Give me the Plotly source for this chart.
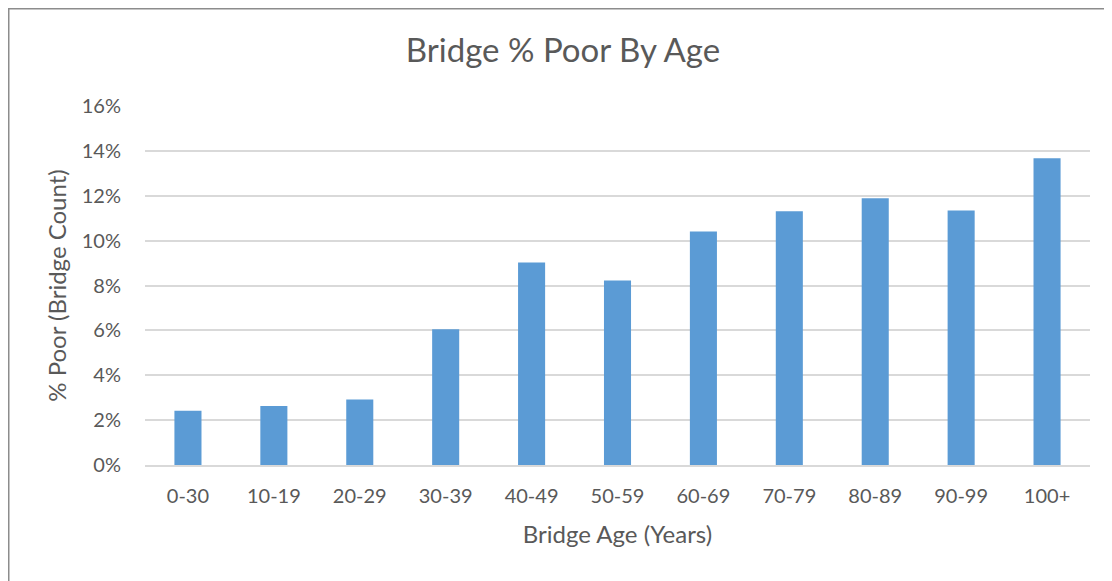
import plotly.graph_objects as go

categories = ["0-30", "10-19", "20-29", "30-39", "40-49", "50-59", "60-69", "70-79", "80-89", "90-99", "100+"]
pct_poor = [0.0242, 0.0263, 0.0292, 0.0605, 0.0902, 0.0822, 0.1041, 0.1131, 0.1189, 0.1134, 0.1367]
y_ticks = [0, 0.02, 0.04, 0.06, 0.08, 0.10, 0.12, 0.14, 0.16]

# page has an 8px body margin; figure coordinates = page - 8
W, H = 1104, 573
L, R, T, B = 137, 22, 98, 116
pw, ph = W - L - R, H - T - B

def px_x(p):
    return (p - L) / pw

def px_y(p):
    return 1 - (p - T) / ph

font = "Lato, 'Open Sans', sans-serif"
grey = "#595959"

fig = go.Figure(go.Bar(
    x=categories, y=pct_poor, marker=dict(color="#5B9BD5", line=dict(width=0)),
    width=0.315,
))

fig.update_layout(
    width=W, height=H,
    margin=dict(l=L, r=R, t=T, b=B),
    paper_bgcolor="white", plot_bgcolor="white",
    font=dict(family=font, color=grey),
    showlegend=False,
    title=dict(text="Bridge % Poor By Age", x=px_x(555), xref="paper", xanchor="center",
               y=1 - 42 / H, yanchor="middle", font=dict(size=33, color=grey, family=font)),
    xaxis=dict(
        tickfont=dict(size=20, color=grey), showgrid=False, showline=True,
        linecolor="#D9D9D9", linewidth=1.5, ticks="", ticklabelstandoff=12,
        title=dict(text="Bridge Age (Years)", font=dict(size=24, color=grey), standoff=20),
    ),
    yaxis=dict(
        range=[0, 0.16], tickvals=y_ticks, tickformat=".0%",
        tickfont=dict(size=20, color=grey), showgrid=True, gridcolor="#D9D9D9", gridwidth=1.5,
        zeroline=False, ticks="", ticklabelstandoff=23,
        title=dict(text="% Poor (Bridge Count)", font=dict(size=24, color=grey), standoff=8),
    ),
    shapes=[dict(type="rect", xref="paper", yref="paper",
                 x0=px_x(0.75), x1=px_x(1130), y0=px_y(0.75), y1=px_y(600),
                 line=dict(color="#8C8C8C", width=1.5), fillcolor="rgba(0,0,0,0)", layer="below")],
)

fig.write_html("out.html")
